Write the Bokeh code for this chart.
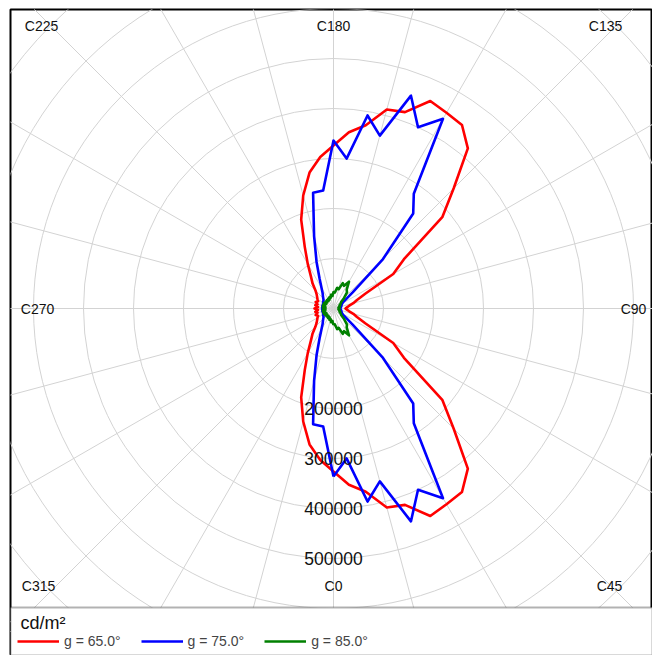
import numpy as np
from bokeh.plotting import figure
from bokeh.models import Range1d, Legend, LegendItem, Label, BoxAnnotation
from bokeh.embed import file_html
from bokeh.resources import INLINE
from bokeh.core.properties import value

# ---------------- data (cd/m², C-planes every 5°) ----------------
c_angles = list(range(0, 360, 5))

red_65 = [326000, 354000, 372000, 412000, 418000, 458000, 452000, 448000, 418000,
          340000, 284000, 172000, 138000, 70000, 50000, 41000, 32000, 27000,
          24000, 27000, 32000, 41000, 50000, 70000, 138000, 172000, 284000,
          340000, 418000, 448000, 452000, 458000, 418000, 412000, 372000, 354000,
          326000, 304000, 276000, 234000, 189000, 136000, 103000, 79000, 65000,
          51000, 44000, 40000, 37000, 34000, 38000, 33000, 37000, 31000,
          38000, 31000, 37000, 33000, 38000, 34000, 37000, 40000, 44000,
          51000, 65000, 79000, 103000, 136000, 189000, 234000, 276000, 304000]

blue_75 = [336000, 301000, 392000, 358000, 453000, 400000, 438000, 280000, 248000,
           140000, 50000, 26000, 20000, 18000, 17000, 16000, 15000, 14000,
           14000, 14000, 15000, 16000, 17000, 18000, 20000, 26000, 50000,
           140000, 248000, 280000, 438000, 400000, 453000, 358000, 392000, 301000,
           336000, 237000, 235000, 150000, 99000, 66000, 48000, 38000, 33000,
           29000, 26000, 25000, 24000, 23000, 22000, 23000, 22000, 23000,
           22000, 23000, 22000, 23000, 22000, 23000, 24000, 25000, 26000,
           29000, 33000, 38000, 48000, 66000, 99000, 150000, 235000, 237000]

green_85 = [33000, 32000, 42000, 40000, 54000, 50000, 62000, 46000, 42000,
            30000, 20000, 18000, 14000, 15000, 12000, 13000, 10000, 12000,
            10000, 12000, 10000, 13000, 12000, 15000, 14000, 18000, 20000,
            30000, 42000, 46000, 62000, 50000, 54000, 40000, 42000, 32000,
            33000, 25000, 28000, 22000, 24000, 19000, 22000, 18000, 21000,
            18000, 21000, 17000, 22000, 18000, 22000, 17000, 22000, 16000,
            21000, 16000, 22000, 17000, 22000, 18000, 22000, 17000, 21000,
            18000, 21000, 18000, 22000, 19000, 24000, 22000, 28000, 25000]

series_labels = ["g = 65.0°", "g = 75.0°", "g = 85.0°"]
series_colors = ["#ff0000", "#0000ff", "#008000"]

ring_values = [100000 * i for i in range(1, 10)]
ring_label_values = [200000, 300000, 400000, 500000]
ring_labels = ["200000", "300000", "400000", "500000"]
spoke_angles = list(range(0, 360, 15))
c_label_angles = [0, 45, 90, 135, 180, 225, 270, 315]
c_labels = ["C0", "C45", "C90", "C135", "C180", "C225", "C270", "C315"]
unit_label = "cd/m²"

# ---------------- layout constants ----------------
PX = 2000.0                      # data units per screen pixel
FIG_W, FIG_H = 652, 655
BORDER_L, BORDER_T = 10, 9
FRAME_W, FRAME_H = FIG_W - BORDER_L, FIG_H - BORDER_T
CX, CY = 323, 299                # diagram centre, px from frame left / top
DIAG_BOTTOM = 598                # px from frame top where the diagram area ends
x0, x1 = -CX * PX, (FRAME_W - CX) * PX
y0, y1 = -(FRAME_H - CY) * PX, CY * PX

# label offsets (px from centre, screen-down positive)
c_label_off = {0: (0, 277), 45: (276, 277), 90: (300, 0), 135: (272, -283),
               180: (0, -283), 225: (-292, -283), 270: (-296, 0), 315: (-295, 277)}

FONT = "Liberation Sans"
GRID = "#d3d3d3"


def polar(angles, vals):
    a = np.radians(np.asarray(list(angles) + [angles[0]], dtype=float))
    v = np.asarray(list(vals) + [vals[0]], dtype=float)
    return v * np.sin(a), -v * np.cos(a)


p = figure(frame_width=FRAME_W, frame_height=FRAME_H,
           x_range=Range1d(x0, x1), y_range=Range1d(y0, y1),
           x_axis_location=None, y_axis_location=None,
           toolbar_location=None, output_backend="svg",
           min_border_left=BORDER_L, min_border_right=0,
           min_border_top=BORDER_T, min_border_bottom=0)
p.grid.visible = False
p.outline_line_color = "black"
p.outline_line_width = 2
p.background_fill_color = "white"
p.border_fill_color = "white"

# grid rings
p.circle(x=[0] * len(ring_values), y=[0] * len(ring_values), radius=ring_values,
         fill_color=None, line_color=GRID, line_width=1)
# spokes
R = 1_000_000
sa = np.radians(spoke_angles)
p.segment(x0=[0] * len(spoke_angles), y0=[0] * len(spoke_angles),
          x1=list(R * np.sin(sa)), y1=list(-R * np.cos(sa)),
          line_color=GRID, line_width=1)

# curves
items = []
for vals, lab, col in zip([red_65, blue_75, green_85], series_labels, series_colors):
    xs, ys = polar(c_angles, vals)
    r = p.line(xs, ys, line_color=col, line_width=2.6, line_join="round")
    items.append(LegendItem(label=lab, renderers=[r]))

# radial value labels along C0
p.text(x=[0] * len(ring_label_values), y=[-v for v in ring_label_values], text=ring_labels,
       text_align="center", text_baseline="middle", text_font=value(FONT),
       text_font_size="17.5px", text_color="#111111")

# C-plane labels
lx = [c_label_off[a][0] * PX for a in c_label_angles]
ly = [-c_label_off[a][1] * PX for a in c_label_angles]
p.text(x=lx, y=ly, text=c_labels, text_align="center", text_baseline="middle",
       text_font=value(FONT), text_font_size="14px", text_color="#111111")

# legend area under the diagram (white box with black top edge)
legend_area = BoxAnnotation(top=-(DIAG_BOTTOM - CY) * PX, fill_color="white", fill_alpha=1.0,
                            line_color="black", line_width=2)
p.add_layout(legend_area)

unit = Label(x=10, y=FRAME_H - 613, x_units="screen", y_units="screen", text=unit_label,
             text_font=FONT, text_font_size="18px", text_baseline="middle", text_color="#111111")
p.add_layout(unit)

legend = Legend(items=items, orientation="horizontal",
                label_text_font=FONT, label_text_font_size="14px",
                glyph_width=42, glyph_height=16, label_standoff=5, spacing=20,
                padding=0, margin=0, border_line_color=None,
                background_fill_alpha=0, location=(7, 6))
p.add_layout(legend, "center")

open("out.html", "w").write(file_html(p, INLINE))
